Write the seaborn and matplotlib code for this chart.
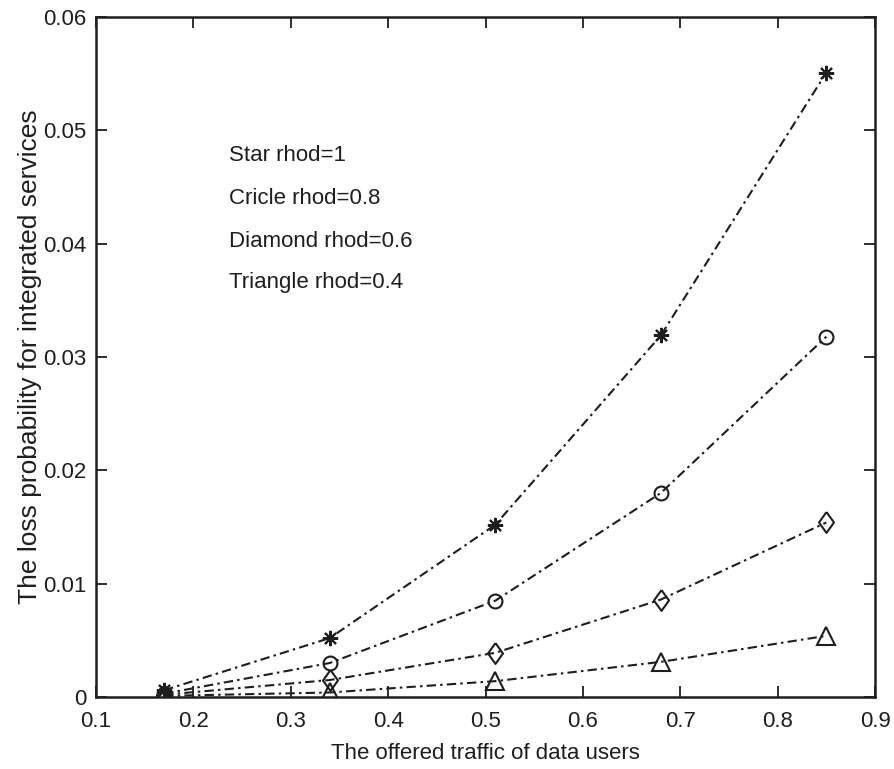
import matplotlib
matplotlib.use("Agg")
import matplotlib.pyplot as plt
import seaborn as sns
import pandas as pd

# Offered traffic of data users
traffic = [0.17, 0.34, 0.51, 0.68, 0.85]

# Loss probability for each rhod value
loss_star = [0.0006, 0.0052, 0.0152, 0.0319, 0.0551]       # rhod = 1
loss_circle = [0.0003, 0.0030, 0.0085, 0.0180, 0.0318]     # rhod = 0.8
loss_diamond = [0.0002, 0.0015, 0.0039, 0.0086, 0.0154]    # rhod = 0.6
loss_triangle = [0.0001, 0.0004, 0.0014, 0.0031, 0.0054]   # rhod = 0.4

notes = ["Star rhod=1", "Cricle rhod=0.8", "Diamond rhod=0.6", "Triangle rhod=0.4"]

x_ticks = [0.1, 0.2, 0.3, 0.4, 0.5, 0.6, 0.7, 0.8, 0.9]
y_ticks = [0, 0.01, 0.02, 0.03, 0.04, 0.05, 0.06]

sns.set_style("ticks")
plt.rcParams["font.family"] = ["Liberation Sans", "DejaVu Sans"]

fig = plt.figure(figsize=(8.95, 7.69), dpi=100)
ax = fig.add_axes([0.1073, 0.0936, 0.8704, 0.8843])

ink = "#1e1e1e"
diamond = [(0, 1), (0.72, 0), (0, -1), (-0.72, 0), (0, 1)]

series = [
    (loss_star, (8, 2, 0), 11),
    (loss_circle, "o", 10),
    (loss_diamond, diamond, 15),
    (loss_triangle, "^", 13),
]

for values, mk, ms in series:
    df = pd.DataFrame({"traffic": traffic, "loss": values})
    sns.lineplot(data=df, x="traffic", y="loss", ax=ax, color=ink,
                 linestyle=(0, (4.5, 2, 1.2, 2)), linewidth=1.5,
                 marker=mk, markersize=ms, markerfacecolor="none",
                 markeredgecolor=ink, markeredgewidth=1.5)

ax.set_xlim(0.1, 0.9)
ax.set_ylim(0, 0.06)
ax.set_xticks(x_ticks)
ax.set_xticklabels([f"{t:g}" for t in x_ticks])
ax.set_yticks(y_ticks)
ax.set_yticklabels([f"{t:g}" for t in y_ticks])

ax.tick_params(direction="in", length=8, width=1.3, labelsize=16,
               top=True, right=True, colors=ink)
ax.tick_params(axis="x", pad=10)
ax.tick_params(axis="y", pad=7)
for sp in ax.spines.values():
    sp.set_visible(True)
    sp.set_linewidth(1.8)
    sp.set_color(ink)

ax.set_xlabel("The offered traffic of data users", fontsize=16, labelpad=8, color=ink)
ax.set_ylabel("The loss probability for integrated services", fontsize=19,
              labelpad=1, color=ink)

note_y = [0.0478, 0.0440, 0.0402, 0.0366]
for txt, yv in zip(notes, note_y):
    ax.text(0.237, yv, txt, fontsize=16, va="center", ha="left", color=ink)

fig.savefig("out.png", dpi=100)
